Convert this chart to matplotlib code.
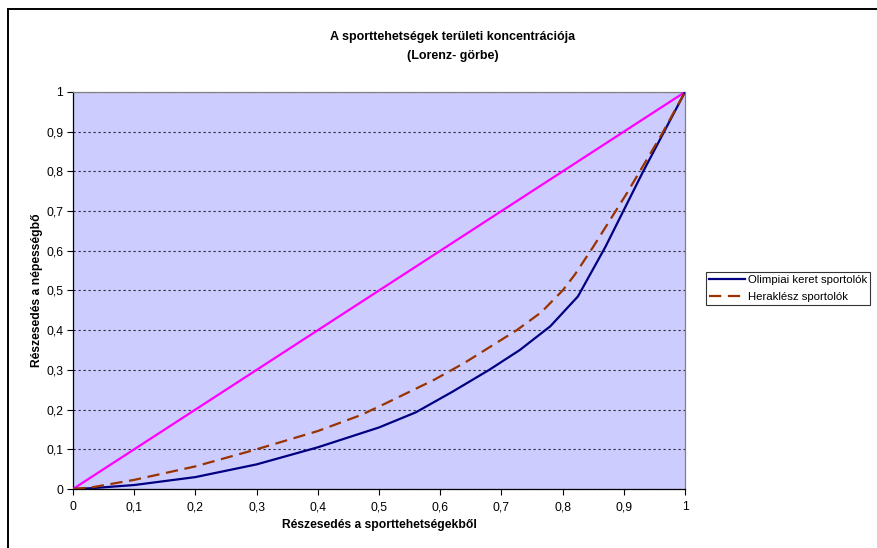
import matplotlib
matplotlib.use("Agg")
import matplotlib.pyplot as plt
from matplotlib.ticker import FuncFormatter, MultipleLocator
from matplotlib.lines import Line2D

plt.rcParams['font.family'] = ['Liberation Sans', 'DejaVu Sans']

# Lorenz curves: cumulative share of sport talents (x) vs. population share (y)
olimpiai_x = [0, 0.03, 0.1, 0.2, 0.3, 0.4, 0.5, 0.56, 0.62, 0.68, 0.73, 0.78, 0.825, 0.87, 0.93, 1.0]
olimpiai_y = [0, 0.002, 0.01, 0.03, 0.062, 0.105, 0.155, 0.193, 0.245, 0.30, 0.35, 0.41, 0.485, 0.61, 0.795, 1.0]

heraklesz_x = [0, 0.03, 0.1, 0.2, 0.3, 0.4, 0.47, 0.51, 0.59, 0.64, 0.725, 0.765, 0.80, 0.82, 0.85, 0.905, 0.96, 1.0]
heraklesz_y = [0, 0.004, 0.023, 0.057, 0.10, 0.146, 0.186, 0.215, 0.275, 0.318, 0.40, 0.445, 0.50, 0.54, 0.61, 0.745, 0.888, 1.0]

egyenlo_x = [0, 1]
egyenlo_y = [0, 1]

labels = ["Olimpiai keret sportolók", "Heraklész sportolók"]
title = "A sporttehetségek területi koncentrációja\n(Lorenz- görbe)"
xlabel = "Részesedés a sporttehetségekből"
ylabel = "Részesedés a népességbő"

FS = 8.7

fig = plt.figure(figsize=(8.78, 5.48), dpi=100)
ax = fig.add_axes([73/878, 1 - 489/548, (685 - 73)/878, (489 - 92)/548])
ax.set_facecolor("#CCCCFF")

ax.plot(egyenlo_x, egyenlo_y, color="#FF00FF", lw=1.6, zorder=3, label="_nolegend_")
ax.plot(olimpiai_x, olimpiai_y, color="#000080", lw=1.6, zorder=4, label=labels[0])
ax.plot(heraklesz_x, heraklesz_y, color="#993300", lw=1.6, dashes=(5.5, 3), zorder=4, label=labels[1])

ax.set_xlim(0, 1)
ax.set_ylim(0, 1)
ax.xaxis.set_major_locator(MultipleLocator(0.1))
ax.yaxis.set_major_locator(MultipleLocator(0.1))

def comma_fmt(v, pos):
    s = f"{v:.1f}"
    if s.endswith(".0"):
        s = s[:-2]
    return s.replace(".", ",")

ax.xaxis.set_major_formatter(FuncFormatter(comma_fmt))
ax.yaxis.set_major_formatter(FuncFormatter(comma_fmt))
ax.tick_params(axis="both", direction="out", length=4, width=0.8, labelsize=FS, color="black")
ax.tick_params(axis="x", pad=5)
ax.tick_params(axis="y", pad=3)

ax.yaxis.grid(True, color="black", linestyle=(0, (2, 2.5)), lw=0.8, alpha=0.8)
ax.set_axisbelow(True)

for side in ("left", "bottom"):
    ax.spines[side].set_color("black")
    ax.spines[side].set_linewidth(0.9)
for side in ("right", "top"):
    ax.spines[side].set_color("#808080")
    ax.spines[side].set_linewidth(0.9)

ax.set_xlabel(xlabel, fontsize=FS, fontweight="bold", labelpad=4)
ax.set_ylabel(ylabel, fontsize=FS, fontweight="bold", labelpad=2)

fig.text(453/878, 1 - 31/548, title, ha="center", va="top", fontsize=9,
         fontweight="bold", linespacing=1.75)

leg = fig.legend(loc="upper left", bbox_to_anchor=(706/878, 1 - 272/548),
                 fontsize=8.2, frameon=True, fancybox=False, edgecolor="black",
                 borderpad=0.3, handlelength=3.1, handletextpad=0.25,
                 labelspacing=0.55, borderaxespad=0)
leg.get_frame().set_linewidth(0.8)

# Outer chart frame (left and top edges)
fig.add_artist(Line2D([8/878, 8/878], [0, 1 - 9/548], transform=fig.transFigure,
                      color="black", lw=1.4))
fig.add_artist(Line2D([8/878, 1], [1 - 9/548, 1 - 9/548], transform=fig.transFigure,
                      color="black", lw=1.4))

fig.savefig("out.png", dpi=100)
